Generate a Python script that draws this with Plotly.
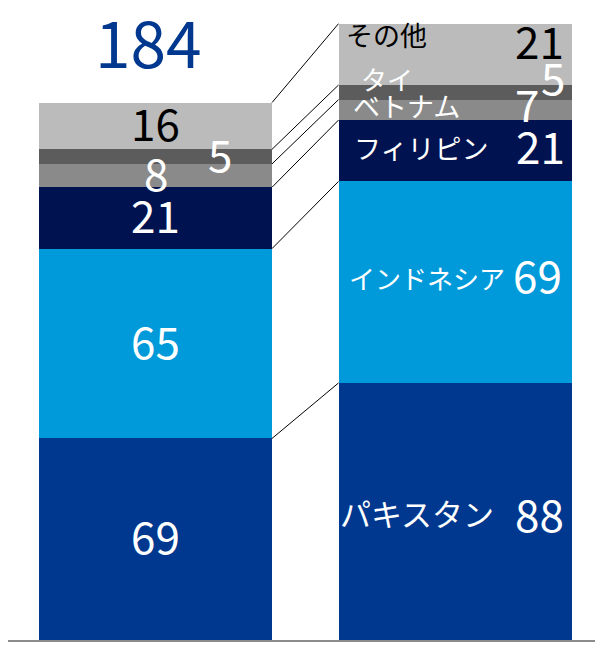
import plotly.graph_objects as go

# --- data ---
categories = ["パキスタン", "インドネシア", "フィリピン", "ベトナム", "タイ", "その他"]
left_values = [69, 65, 21, 8, 5, 16]
right_values = [88, 69, 21, 7, 5, 21]
left_total = 184
colors = ["#00388F", "#009ADA", "#00124F", "#8A8A8A", "#5C5C5C", "#BBBBBB"]
num_colors_left = ["white", "white", "white", "white", "white", "black"]
num_colors_right = ["white", "white", "white", "white", "white", "black"]
name_colors = ["white", "white", "white", "white", "white", "black"]

# --- style/position tweaks (pixels) ---
bar_w = 0.778
left_num_xshift = [0, 0, 0, 0, 64, 0]
left_num_yshift = [4, 4, 4, 4, 4, 4]
right_num_xshift = [-7, -9, -6, -32, -6, -7]
right_num_yshift = [-2, 8, 6, 7, 16, 14]
name_xshift = [0, 9, 14, 13, 21, 6]
name_yshift = [-1, 5, 3, 4, 14, 20]
name_sizes = [31, 26, 27, 27, 26, 27]

FONT = "Noto Sans CJK JP"
fig = go.Figure()
for i, cat in enumerate(categories):
    fig.add_trace(go.Bar(
        x=[0, 1], y=[left_values[i], right_values[i]], width=bar_w,
        marker=dict(color=colors[i], line=dict(width=0)),
        name=cat, hoverinfo="skip", showlegend=False,
    ))

annotations = []
shapes = []
cum_l = 0
cum_r = 0
for i, cat in enumerate(categories):
    lv, rv = left_values[i], right_values[i]
    mid_l = cum_l + lv / 2
    mid_r = cum_r + rv / 2
    annotations.append(dict(
        x=0, y=mid_l, text=str(lv), showarrow=False, xanchor="center", yanchor="middle",
        xshift=left_num_xshift[i], yshift=left_num_yshift[i], borderpad=0,
        font=dict(family=FONT, size=44, color=num_colors_left[i]),
    ))
    annotations.append(dict(
        x=1 + bar_w / 2, y=mid_r, text=str(rv), showarrow=False, xanchor="right", yanchor="middle",
        xshift=right_num_xshift[i], yshift=right_num_yshift[i], borderpad=0,
        font=dict(family=FONT, size=44, color=num_colors_right[i]),
    ))
    annotations.append(dict(
        x=1 - bar_w / 2, y=mid_r, text=cat, showarrow=False, xanchor="left", yanchor="middle",
        xshift=name_xshift[i], yshift=name_yshift[i], borderpad=0,
        font=dict(family=FONT, size=name_sizes[i], color=name_colors[i]),
    ))
    cum_l += lv
    cum_r += rv
    shapes.append(dict(
        type="line", xref="x", yref="y",
        x0=bar_w / 2, y0=cum_l, x1=1 - bar_w / 2, y1=cum_r,
        line=dict(color="black", width=1),
    ))

annotations.append(dict(
    x=0, y=left_total, text=str(left_total), showarrow=False, xanchor="center", yanchor="middle",
    yshift=63, xshift=-7, borderpad=0,
    font=dict(family=FONT, size=64, color="#00388F"),
))

# page body has an 8px margin, so the figure is sized to fit the window
fig.update_layout(
    barmode="stack",
    width=595, height=641,
    margin=dict(l=0, r=0, t=4, b=9),
    paper_bgcolor="white", plot_bgcolor="white",
    xaxis=dict(range=[-0.4925, 1.494], showline=True, linecolor="#8C8C8C", linewidth=2,
               showticklabels=False, showgrid=False, zeroline=False, ticks=""),
    yaxis=dict(range=[0, 215], visible=False, showgrid=False, zeroline=False),
    annotations=annotations,
    shapes=shapes,
    bargap=0,
)

fig.write_html("out.html")
